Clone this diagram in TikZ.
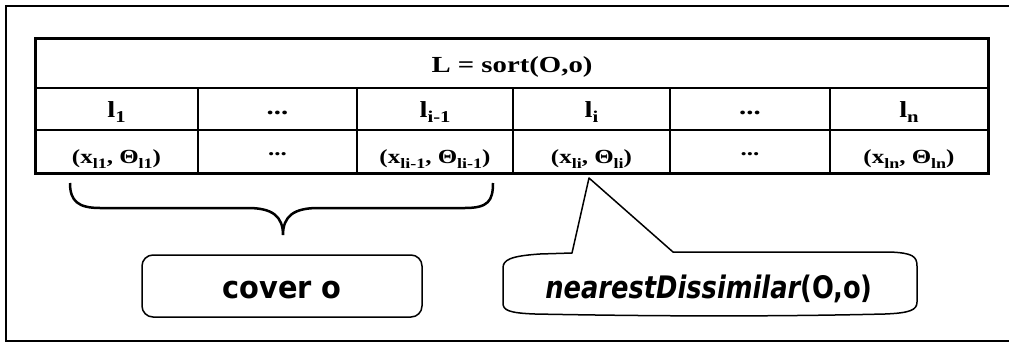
\documentclass[tikz,border=0pt]{standalone}
\usepackage{fontspec}
\setmainfont{Liberation Serif}
\newfontfamily\vsans{DejaVu Sans}
\usepackage{graphicx}
\newcommand{\wide}[1]{\scalebox{1.25}[1]{#1}}
\newcommand{\lsub}[1]{\raisebox{-0.25em}{\scalebox{0.72}{#1}}}
\tikzset{
  frame/.style={line width=2.5pt},
  outerline/.style={line width=3pt},
  hsep/.style={line width=2.5pt},
  rsep/.style={line width=2pt},
  vsep/.style={line width=1.3pt},
  hdr/.style={inner sep=0pt, anchor=base, font=\bfseries\fontsize{23}{26}\selectfont},
  idx/.style={inner sep=0pt, anchor=base, font=\bfseries\fontsize{23}{26}\selectfont},
  val/.style={inner sep=0pt, anchor=base, font=\bfseries\fontsize{20}{22}\selectfont},
  labelbox/.style={draw, line width=1.5pt, rounded corners=11pt},
  sanslab/.style={inner sep=0pt, anchor=base, font=\vsans\bfseries\fontsize{31}{36}\selectfont},
  brace/.style={line width=2.5pt},
  bubble/.style={line width=1.5pt, line join=round},
}
\begin{document}
\begin{tikzpicture}[x=1pt,y=-1pt]
\useasboundingbox (0,0) rectangle (1009,343);
% outer frame (cut at right)
\draw[frame] (1009,6) -- (6,6) -- (6,341) -- (1009,341);
% table
\coordinate (tl) at (35,38);
\coordinate (br) at (988,173);
\draw[hsep] (35,88) -- (988,88);
\draw[rsep] (35,130) -- (988,130);
\foreach \x in {198,357,513,670,830} \draw[vsep] (\x,88) -- (\x,173);
\draw[outerline] (tl) rectangle (br);
% header
\node[hdr] (head) at (512,72) {\wide{L = sort(O,o)}};
% index row
\node[idx] (i1) at (116.5,117) {\wide{l\lsub{1}}};
\node[idx] (i2) at (277.5,114) {\wide{...}};
\node[idx] (i3) at (435,117) {\wide{l\lsub{i-1}}};
\node[idx] (i4) at (591.5,117) {\wide{l\lsub{i}}};
\node[idx] (i5) at (750,114) {\wide{...}};
\node[idx] (i6) at (909,117) {\wide{l\lsub{n}}};
% value row
\node[val] (v1) at (116.5,163) {\wide{(x\lsub{l1}, Θ\lsub{l1})}};
\node[val] (v2) at (277.5,155) {\wide{...}};
\node[val] (v3) at (435,163) {\wide{(x\lsub{li-1}, Θ\lsub{li-1})}};
\node[val] (v4) at (591.5,163) {\wide{(x\lsub{li}, Θ\lsub{li})}};
\node[val] (v5) at (750,155) {\wide{...}};
\node[val] (v6) at (909,163) {\wide{(x\lsub{ln}, Θ\lsub{ln})}};
% brace
\coordinate (bl) at (70,183);
\coordinate (btip) at (283,235);
\coordinate (bre) at (493,183);
\draw[brace] (bl) .. controls (70,201) and (78,208) .. (100,208) -- (248,208)
  .. controls (272,208) and (283,216) .. (btip)
  .. controls (283,216) and (294,208) .. (318,208) -- (465,208)
  .. controls (488,208) and (493,201) .. (bre);
% cover o box
\node[labelbox, minimum width=280pt, minimum height=62pt] (cover) at (282,286) {};
\node[sanslab] (covertxt) at (282,298) {\scalebox{0.93}[1]{cover o}};
% callout
\coordinate (ptip) at (589,178);
\draw[bubble] (572,253) -- (ptip) -- (673,252) -- (890,252)
  .. controls (912,253) and (917,256) .. (917,266) -- (917,302)
  .. controls (917,310) and (910,313) .. (885,314)
  .. controls (760,317) and (640,316) .. (535,314)
  .. controls (508,313) and (503,310) .. (503,303) -- (503,268)
  .. controls (503,260) and (510,256) .. (540,254) -- cycle;
\node[sanslab] (near) at (709,298) {\scalebox{0.83}[1]{\itshape nearestDissimilar\upshape(O,o)}};
\end{tikzpicture}
\end{document}
